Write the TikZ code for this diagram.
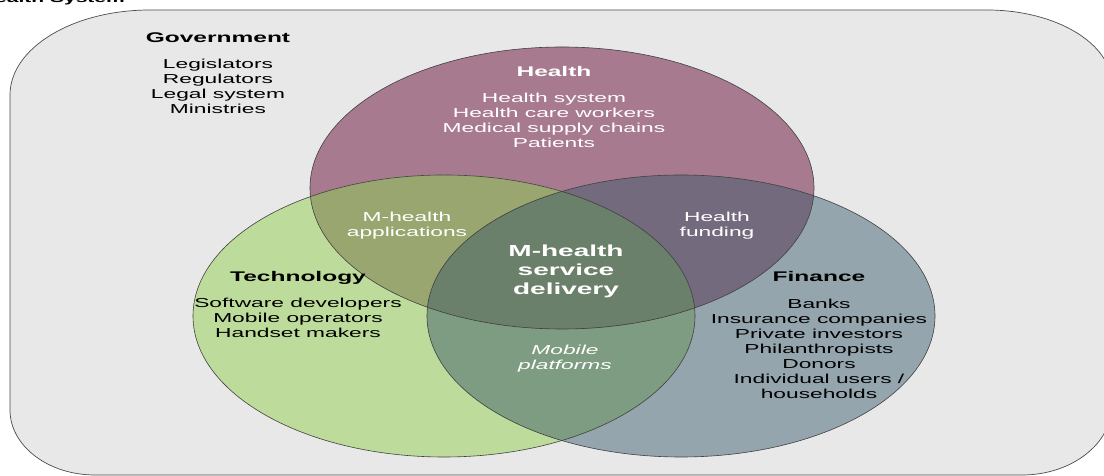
\documentclass[tikz,border=0pt]{standalone}
\usepackage{fontspec}
\setmainfont{Liberation Sans}[FakeStretch=1.75]

\definecolor{boxgray}{HTML}{E8E8E8}
\definecolor{healthfill}{HTML}{A77A8F}
\definecolor{techfill}{HTML}{BDDC9B}
\definecolor{financefill}{HTML}{95A5AD}
\definecolor{healthtech}{HTML}{9AA66F}
\definecolor{healthfinance}{HTML}{736A7E}
\definecolor{techfinance}{HTML}{7E9C81}
\definecolor{allthree}{HTML}{6B806A}

% the three sectors
\newcommand{\healthcircle}{(562,288) ellipse [x radius=252, y radius=141]}
\newcommand{\techcircle}{(444,160) ellipse [x radius=251, y radius=141]}
\newcommand{\financecircle}{(681,160) ellipse [x radius=254, y radius=141]}

\begin{document}
\begin{tikzpicture}[x=1pt,y=1pt,
	every node/.style={inner sep=0pt,align=center,font=\fontsize{13}{15}\selectfont},
	heading/.style={font=\fontsize{14}{16}\selectfont\bfseries},
	outline/.style={draw=black!75,line width=0.6pt}]
	\useasboundingbox (0,0) rectangle (1104,476);
	\clip (0,0) rectangle (1104,476);

	% government frame
	\path[fill=boxgray,draw=black!70,line width=0.7pt]
		(150,466) -- (987,466) arc[start angle=90,end angle=0,x radius=125,y radius=75]
		-- (1112,71) arc[start angle=0,end angle=-90,x radius=90,y radius=70]
		-- (95,1) arc[start angle=270,end angle=180,x radius=85,y radius=65]
		-- (10,381) arc[start angle=180,end angle=90,x radius=140,y radius=85] -- cycle;

	\node[anchor=base east,font=\fontsize{12}{14}\selectfont\bfseries] (title) at (125,473.5)
		{Health System};

	% sector fills and overlaps
	\fill[healthfill] \healthcircle;
	\fill[techfill] \techcircle;
	\fill[financefill] \financecircle;
	\begin{scope}
		\clip \techcircle;
		\fill[techfinance] \financecircle;
	\end{scope}
	\begin{scope}
		\clip \healthcircle;
		\fill[healthtech] \techcircle;
		\fill[healthfinance] \financecircle;
		\clip \techcircle;
		\fill[allthree] \financecircle;
	\end{scope}
	\draw[outline] \healthcircle;
	\draw[outline] \techcircle;
	\draw[outline] \financecircle;

	% labels
	\node[heading,anchor=center] (govhead) at (218,438) {Government};
	\node[anchor=center] (govlist) at (218,390)
		{Legislators\\Regulators\\Legal system\\Ministries};

	\node[heading,anchor=center,text=white] (healthhead) at (554,404) {Health};
	\node[anchor=center,text=white] (healthlist) at (554,356)
		{Health system\\Health care workers\\Medical supply chains\\Patients};

	\node[heading,anchor=center] (techhead) at (298,198) {Technology};
	\node[anchor=center] (techlist) at (298,158)
		{Software developers\\Mobile operators\\Handset makers};

	\node[heading,anchor=center] (finhead) at (819,199) {Finance};
	\node[anchor=center] (finlist) at (819,127)
		{Banks\\Insurance companies\\Private investors\\Philanthropists\\Donors\\Individual users /\\households};

	\node[anchor=center,text=white] (apps) at (407,250) {M-health\\applications};
	\node[anchor=center,text=white] (funding) at (717,250) {Health\\funding};
	\node[anchor=center,text=white,font=\fontsize{16}{19}\selectfont\bfseries] (delivery) at (566,205)
		{M-health\\service\\delivery};
	\node[anchor=center,text=white,font=\fontsize{13}{15}\selectfont\itshape] (platforms) at (565,117)
		{Mobile\\platforms};
\end{tikzpicture}
\end{document}
